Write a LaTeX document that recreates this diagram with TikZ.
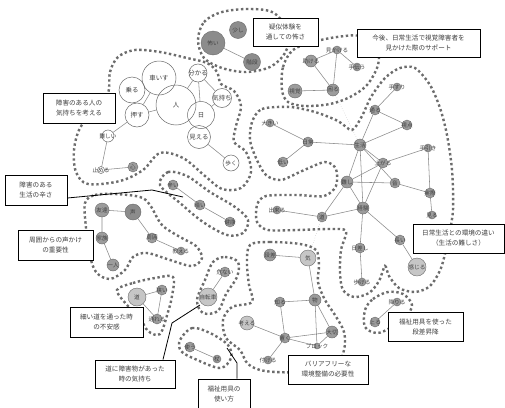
\documentclass[tikz,border=0pt]{standalone}
\usepackage{fontspec}
\setmainfont{Noto Sans CJK JP}
\usetikzlibrary{calc}
\pgfdeclarelayer{bg}
\pgfsetlayers{bg,main}
\definecolor{dotc}{HTML}{6C6C6C}
\definecolor{edgec}{HTML}{8A8A8A}
\definecolor{nodeg}{HTML}{9C9C9C}
\definecolor{noded}{HTML}{8C8C8C}
\definecolor{nodel}{HTML}{C6C6C6}
\definecolor{ringc}{HTML}{6A6A6A}
\definecolor{txtc}{HTML}{404040}
\tikzset{
  bnd/.style={draw=dotc, line width=2.4pt, dash pattern=on 2.4pt off 2.6pt},
  edge/.style={draw=edgec, line width=0.55pt},
  faint/.style={draw=edgec!70, line width=0.4pt, dotted},
  wn/.style={circle, draw=ringc, line width=0.5pt, inner sep=0pt, minimum size=#1},
  gn/.style={circle, draw=ringc, fill=nodeg, line width=0.4pt, inner sep=0pt, minimum size=#1},
  dn/.style={circle, draw=ringc, fill=noded, line width=0.4pt, inner sep=0pt, minimum size=#1},
  ln/.style={circle, draw=ringc, fill=nodel, line width=0.4pt, inner sep=0pt, minimum size=#1},
  nl/.style={font=\fontsize{5.6}{6}\selectfont, text=txtc, inner sep=0pt},
  bl/.style={font=\fontsize{6.4}{7}\selectfont, text=txtc, inner sep=0pt},
  box/.style={draw=black, line width=0.9pt, fill=white, align=center, inner sep=1pt,
    font=\fontsize{6.6}{10}\selectfont, text=txtc},
  conn/.style={draw=black, line width=0.8pt}
}
\begin{document}
\begin{tikzpicture}[x=1pt,y=-1pt]
\useasboundingbox (0,0) rectangle (505,407);
\begin{pgfonlayer}{bg}
\fill[white] (0,0) rectangle (505,407);
% boundaries
\draw[bnd] plot[smooth cycle, tension=0.55] coordinates {(198,40) (204,22) (222,12) (250,9) (274,13) (289,33) (285,53) (270,67) (246,72) (222,68) (204,58)};
\draw[bnd] plot[smooth cycle, tension=0.55] coordinates {(108,93) (110,72) (118,57) (135,50) (160,52) (187,58) (207,63) (217,72) (221,84) (234,91) (241,106) (236,126) (234,142) (246,152) (251,172) (241,188) (222,189) (205,176) (183,158) (160,153) (143,170) (120,181) (88,184) (76,172) (74,150) (80,128) (95,110)};
\draw[bnd] plot[smooth cycle, tension=0.55] coordinates {(282,90) (283,67) (293,50) (313,42) (337,37) (360,36) (377,47) (378,65) (367,85) (350,97) (330,104) (305,106) (288,102)};
\draw[bnd] plot[smooth cycle, tension=0.5] coordinates {(252,122) (262,109) (290,107) (315,112) (338,121) (352,130) (362,116) (371,97) (385,78) (400,68) (415,68) (430,85) (440,108) (447,135) (452,170) (453,210) (448,240) (441,268) (430,286) (415,292) (399,288) (389,276) (385,266) (379,281) (369,293) (354,297) (343,290) (340,273) (341,250) (346,231) (330,229) (297,230) (268,230) (257,222) (257,205) (266,196) (297,195) (324,196) (336,186) (336,169) (325,162) (302,171) (281,180) (266,175) (256,158) (250,140)};
\draw[bnd] plot[smooth cycle, tension=0.55] coordinates {(250,245) (270,242) (300,244) (316,250) (319,265) (318,282) (325,300) (335,315) (344,332) (344,350) (335,366) (300,372) (265,371) (248,364) (240,350) (226,338) (223,320) (232,307) (252,302) (249,285) (247,263)};
\draw[bnd] plot[smooth cycle, tension=0.55] coordinates {(365,310) (373,299) (388,292) (403,294) (412,305) (405,318) (390,328) (377,333) (365,327)};
\draw[bnd] plot[smooth cycle, tension=0.55] coordinates {(160,185) (168,172) (187,176) (210,192) (235,207) (248,220) (243,233) (227,235) (203,222) (180,203)};
\draw[bnd] plot[smooth cycle, tension=0.55] coordinates {(85,203) (95,195) (115,194) (140,197) (150,205) (162,225) (180,237) (196,246) (202,258) (192,266) (170,260) (147,253) (133,257) (125,270) (110,279) (96,272) (89,252) (86,228)};
\draw[bnd] plot[smooth cycle, tension=0.55] coordinates {(117,290) (133,283) (155,278) (173,277) (172,296) (168,312) (160,334) (148,331) (140,318) (127,305)};
\draw[bnd] plot[smooth cycle, tension=0.55] coordinates {(213,262) (225,257) (238,262) (237,277) (226,294) (218,311) (203,313) (197,300) (205,280)};
\draw[bnd] plot[smooth cycle, tension=0.55] coordinates {(180,340) (192,328) (210,333) (228,345) (231,358) (220,368) (195,359) (181,351)};
\end{pgfonlayer}

% top grey cluster
\node[dn=24,label={[nl]center:怖い}] (kowai) at (213,43) {};
\node[dn=17,label={[nl]center:少し}] (sukoshi) at (238,30) {};
\node[dn=17,label={[nl]center:階段}] (kaidan) at (252,62) {};

% white cluster
\node[wn=40,label={[bl]center:人}] (hito) at (176,105) {};
\node[wn=34,label={[bl]center:車いす}] (kuruma) at (159,78) {};
\node[wn=26,label={[bl]center:乗る}] (noru) at (132,90) {};
\node[wn=24,label={[bl]center:押す}] (osu) at (137,115) {};
\node[wn=18,label={[bl]center:分かる}] (wakaru) at (198,73) {};
\node[wn=19,label={[bl]center:気持ち}] (kimochi) at (222,98) {};
\node[wn=27,label={[bl]center:日}] (hi) at (201,115) {};
\node[wn=23,label={[bl]center:見える}] (mieru) at (199,137) {};
\node[wn=16,label={[nl]center:歩く}] (aruku) at (231,163) {};
\node[wn=12,label={[nl]center:難しい}] (muzu) at (108,136) {};
\node[wn=7,label={[nl]center:止める}] (tomeru) at (101,170) {};
\node[gn=10,label={[nl]center:心}] (kokoro) at (133,167) {};

% support cluster
\node[gn=12,label={[nl]center:助ける}] (tasukeru) at (311,61) {};
\node[gn=8,label={[nl]center:見かける}] (mikakeru) at (337,50) {};
\node[gn=8,label={[nl]center:手伝う}] (tetsudau) at (357,67) {};
\node[gn=12,label={[nl]center:困る}] (komaru) at (333,90) {};
\node[gn=14,label={[nl]center:視覚}] (shikaku) at (295,91) {};

% big environment cluster
\node[gn=8,label={[nl]center:手すり}] (tesuri) at (397,87) {};
\node[gn=10,label={[nl]center:通る}] (tooru) at (375,110) {};
\node[gn=10,label={[nl]center:視点}] (shiten) at (407,125) {};
\node[gn=8,label={[nl]center:大きい}] (ookii) at (270,123) {};
\node[gn=10,label={[nl]center:日常}] (nichijo) at (308,142) {};
\node[gn=10,label={[nl]center:低い}] (hikui) at (283,162) {};
\node[gn=12,label={[nl]center:生活}] (seikatsu) at (360,145) {};
\node[gn=10,label={[nl]center:上がる}] (agaru) at (383,163) {};
\node[gn=8,label={[nl]center:手引き}] (tebiki) at (428,148) {};
\node[gn=12,label={[nl]center:難し}] (muzu2) at (347,182) {};
\node[gn=10,label={[nl]center:音}] (oto) at (395,183) {};
\node[gn=10,label={[nl]center:実際}] (jissai) at (430,193) {};
\node[gn=8,label={[nl]center:見る}] (miru) at (432,215) {};
\node[gn=12,label={[nl]center:経験}] (keiken) at (363,208) {};
\node[gn=10,label={[nl]center:道}] (michi) at (322,217) {};
\node[gn=8,label={[nl]center:出来る}] (dekiru) at (277,210) {};
\node[gn=10,label={[nl]center:日差し}] (hizashi) at (360,248) {};
\node[gn=10,label={[nl]center:長い}] (nagai) at (400,240) {};
\node[ln=18,label={[nl]center:感じる}] (kanjiru) at (417,267) {};
\node[gn=8,label={[nl]center:歩ける}] (arukeru) at (362,282) {};

% barrier-free cluster
\node[gn=12,label={[nl]center:段差}] (dansa) at (270,255) {};
\node[ln=16,label={[nl]center:気}] (ki) at (308,258) {};
\node[gn=10,label={[nl]center:知る}] (shiru) at (280,302) {};
\node[gn=12,label={[nl]center:物}] (mono) at (315,300) {};
\node[ln=14,label={[nl]center:考える}] (kangaeru) at (247,323) {};
\node[gn=10,label={[nl]center:置く}] (oku) at (285,338) {};
\node[gn=12,label={[nl]center:大切}] (taisetsu) at (332,332) {};
\node[gn=6,label={[nl]center:ブロック}] (block) at (317,346) {};
\node[gn=8,label={[nl]center:付ける}] (tsukeru) at (268,360) {};

% steps cluster
\node[gn=8,label={[nl]center:降りる}] (oriru) at (397,302) {};
\node[gn=10,label={[nl]center:上る}] (noboru) at (375,322) {};

% hardship cluster
\node[gn=10,label={[nl]center:辛い}] (tsurai) at (173,185) {};
\node[gn=10,label={[nl]center:暗い}] (kurai) at (200,205) {};
\node[gn=10,label={[nl]center:健康}] (kenko) at (230,222) {};

% voice cluster
\node[gn=14,label={[nl]center:友達}] (tomodachi) at (102,210) {};
\node[dn=16,label={[nl]center:声}] (koe) at (133,212) {};
\node[gn=10,label={[nl]center:周囲}] (shui) at (152,238) {};
\node[gn=8,label={[nl]center:教える}] (oshieru) at (181,251) {};
\node[gn=12,label={[nl]center:家族}] (kazoku) at (102,238) {};
\node[gn=12,label={[nl]center:一人}] (hitori) at (113,265) {};

% narrow road cluster
\node[ln=18,label={[nl]center:道}] (michi2) at (137,297) {};
\node[gn=10,label={[nl]center:狭い}] (semai) at (162,290) {};
\node[gn=10,label={[nl]center:通れる}] (tooreru) at (157,319) {};

% obstacle cluster
\node[gn=10,label={[nl]center:危ない}] (abunai) at (225,272) {};
\node[ln=18,label={[nl]center:自転車}] (jitensha) at (208,297) {};

% tools cluster
\node[gn=10,label={[nl]center:使う}] (tsukau) at (190,347) {};
\node[gn=8,label={[nl]center:杖}] (tsue) at (217,359) {};

\begin{pgfonlayer}{bg}
\draw[edge] (kowai) -- (kaidan);
\draw[edge] (hito) -- (wakaru) (wakaru) -- (hi) (wakaru) -- (kimochi) (kimochi) -- (hi)
  (hito) -- (osu) (kuruma) -- (osu) (mieru) -- (aruku) (osu) -- (muzu) (muzu) -- (tomeru) (tomeru) -- (kokoro);
\draw[edge] (tasukeru) -- (komaru) (mikakeru) -- (komaru) (mikakeru) -- (tetsudau) (shikaku) -- (komaru) (tasukeru) -- (mikakeru);
\draw[edge] (tesuri) -- (tooru) (tooru) -- (seikatsu) (tooru) -- (shiten) (seikatsu) -- (shiten)
  (ookii) -- (nichijo) (nichijo) -- (seikatsu) (nichijo) -- (hikui)
  (seikatsu) -- (agaru) (seikatsu) -- (oto) (seikatsu) -- (muzu2) (seikatsu) -- (keiken)
  (agaru) -- (tebiki) (agaru) -- (muzu2) (agaru) -- (keiken) (muzu2) -- (oto) (oto) -- (jissai)
  (tebiki) -- (jissai) (jissai) -- (miru) (muzu2) -- (keiken) (muzu2) -- (michi) (keiken) -- (michi)
  (dekiru) -- (michi) (keiken) -- (hizashi) (hizashi) -- (arukeru) (keiken) -- (nagai) (nagai) -- (kanjiru);
\draw[faint] (komaru) -- (seikatsu);
\draw[faint] (michi) -- (ki);
\draw[edge] (dansa) -- (ki) (ki) -- (mono) (shiru) -- (mono) (shiru) -- (oku) (mono) -- (taisetsu)
  (mono) -- (block) (kangaeru) -- (oku) (oku) -- (taisetsu) (oku) -- (block) (block) -- (taisetsu) (oku) -- (tsukeru);
\draw[edge] (oriru) -- (noboru);
\draw[edge] (tsurai) -- (kurai) (kurai) -- (kenko);
\draw[edge] (tomodachi) -- (koe) (tomodachi) -- (kazoku) (kazoku) -- (hitori) (koe) -- (shui) (shui) -- (oshieru);
\draw[edge] (michi2) -- (semai) (michi2) -- (tooreru) (semai) -- (tooreru);
\draw[edge] (abunai) -- (jitensha);
\draw[edge] (tsukau) -- (tsue);
\end{pgfonlayer}

% label boxes
\node[box, minimum width=65pt, minimum height=28pt] (b1) at (285.5,32) {疑似体験を\\通しての怖さ};
\node[box, minimum width=123pt, minimum height=28pt] (b2) at (418.5,43) {今後、日常生活で視覚障害者を\\見かけた際のサポート};
\node[box, minimum width=72pt, minimum height=30pt] (b3) at (79,108) {障害のある人の\\気持ちを考える};
\node[box, minimum width=62pt, minimum height=30pt] (b4) at (36,190) {障害のある\\生活の辛さ};
\node[box, minimum width=75pt, minimum height=30pt] (b5) at (55.5,245) {周囲からの声かけ\\の重要性};
\node[box, minimum width=91pt, minimum height=29pt] (b6) at (458.5,238.5) {日常生活との環境の違い\\（生活の難しさ）};
\node[box, minimum width=73pt, minimum height=30pt] (b7) at (106.5,322) {細い道を通った時\\の不安感};
\node[box, minimum width=75pt, minimum height=29pt] (b8) at (425.5,326.5) {福祉用具を使った\\段差昇降};
\node[box, minimum width=80pt, minimum height=28pt] (b9) at (135,374) {道に障害物があった\\時の気持ち};
\node[box, minimum width=80pt, minimum height=29pt] (b10) at (328,369.5) {バリアフリーな\\環境整備の必要性};
\node[box, minimum width=52pt, minimum height=30pt] (b11) at (224,394) {福祉用具の\\使い方};

% connectors
\coordinate (c4a) at (152,190);
\coordinate (c4b) at (183,197);
\draw[conn] ([yshift=-8pt]b4.east) -- (c4a) -- (c4b);
\coordinate (c9a) at (172,323);
\coordinate (c9b) at (200,305);
\draw[conn] ([xshift=28pt]b9.north) -- (c9a) -- (c9b);
\coordinate (c11a) at (237,363);
\coordinate (c11b) at (227,348);
\draw[conn] ([xshift=13pt]b11.north) -- (c11a) -- (c11b);
\end{tikzpicture}
\end{document}
